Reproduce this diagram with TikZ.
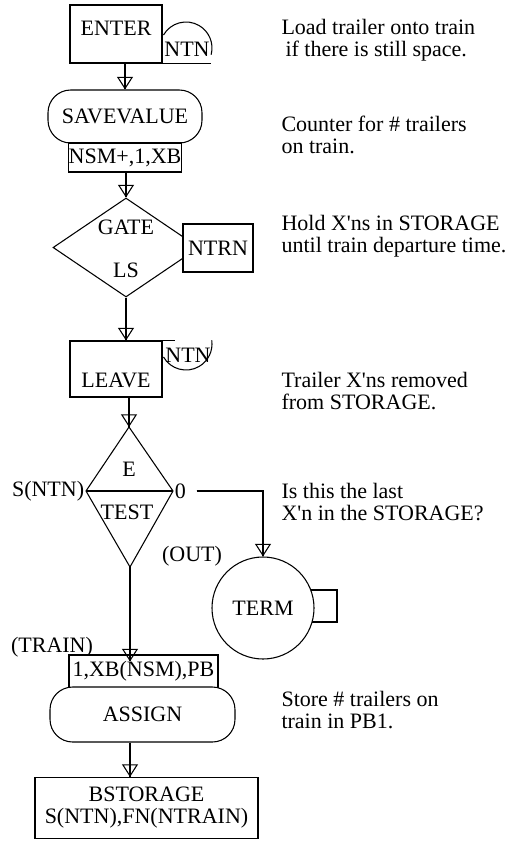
\documentclass[tikz,border=0pt]{standalone}
\usepackage{fontspec}
\setmainfont{Liberation Serif}
\usetikzlibrary{arrows.meta,positioning,calc,shapes.geometric}
\tikzset{gpss edge/.style={-{Triangle[open,length=9.5pt,width=12pt]}, line width=0.8pt, postaction={draw,-}}}
\tikzset{gpss box/.style={draw=black, line width=0.8pt, inner sep=0pt, fill=white}}
\tikzset{gpss round/.style={gpss box, rounded corners=17pt}}
\tikzset{gpss label/.style={inner sep=1pt}}
\tikzset{gpss note/.style={anchor=west, align=left, inner sep=0pt}}

\begin{document}
\begin{tikzpicture}[x=0.75pt,y=-0.75pt,line width=0.8pt,font=\fontsize{16.5}{16.5}\selectfont]
		\useasboundingbox (0,0) rectangle (507,842);

		% ENTER with storage NTN
		\node[gpss box, minimum width=69pt, minimum height=43.5pt, label={[gpss label, yshift=4.5pt]center:ENTER}] (enter) at (116,34) {};
		\node[gpss label] (ntn1) at (187,49) {NTN};
		\coordinate (enter ntn) at (186,48);
		\draw ($(enter ntn)+(150:19.5pt)$) arc[start angle=150, end angle=-15, radius=19.5pt];
		\draw (enter.south east) -- ++(48,0);

		% SAVEVALUE
		\node[gpss round, minimum width=115.5pt, minimum height=39.75pt] (sav) at (125,116.5) {SAVEVALUE};
		\node[gpss box, minimum width=84pt, minimum height=21.75pt] (nsm) at (125,157.5) {NSM+,1,XB};

		% GATE LS
		\node[diamond, draw, minimum width=109.5pt, minimum height=74.25pt, inner sep=0pt] (gate) at (126,247.5) {};
		\node[gpss label] (gate top) at (126,227) {GATE};
		\node[gpss label] (gate bot) at (126,270) {LS};
		\node[gpss box, minimum width=52.5pt, minimum height=36pt] (ntrn) at (218,248) {NTRN};

		% LEAVE with storage NTN
		\node[gpss box, minimum width=69pt, minimum height=42pt, label={[gpss label, yshift=-8.25pt]center:LEAVE}] (leave) at (116,369) {};
		\node[gpss label] (ntn2) at (188,355) {NTN};
		\coordinate (leave ntn) at (186,344);
		\draw ($(leave ntn)+(210:19.5pt)$) arc[start angle=210, end angle=368, radius=19.5pt];
		\draw (leave.north east) -- ++(12,0);

		% TEST E
		\coordinate (test n) at (129,427);
		\coordinate (test e) at (173,491);
		\coordinate (test s) at (130,567);
		\coordinate (test w) at (86,491);
		\draw (test n) -- (test e) -- (test s) -- (test w) -- cycle;
		\draw (test w) -- (test e);
		\node[gpss label] (test top) at (129,469) {E};
		\node[gpss label] (test bot) at (127,512) {TEST};
		\node[gpss label, anchor=east] (snt) at (test w) {S(NTN)};
		\node[gpss label, anchor=west] (zero) at (test e) {0};

		% TERMINATE
		\node[gpss box, minimum width=27.75pt, minimum height=24pt] (termbox) at (318.5,606) {};
		\node[circle, draw, fill=white, minimum size=76.5pt, inner sep=0pt] (term) at (263,608) {TERM};
		\node[gpss label] (out) at (192,556) {(OUT)};

		% ASSIGN
		\node[gpss label] (train) at (52,647) {(TRAIN)};
		\node[gpss box, minimum width=111.75pt, minimum height=24.75pt] (pb) at (143.5,671.5) {1,XB(NSM),PB};
		\node[gpss round, minimum width=138.75pt, minimum height=41.25pt] (assign) at (142.5,714.5) {ASSIGN};

		% BSTORAGE
		\node[gpss box, align=center, minimum width=167.25pt, minimum height=45.75pt] (bst) at (146.5,808) {BSTORAGE\\S(NTN),FN(NTRAIN)};

		% flow
		\draw[gpss edge] (enter.south -| sav.north) -- (sav.north);
		\draw[gpss edge] (nsm.south -| gate.north) -- (gate.north);
		\draw[gpss edge] (gate.south) -- (leave.north -| gate.south);
		\draw[gpss edge] (leave.south -| test n) -- (test n);
		\draw[gpss edge] (test s) -- ($(pb.north -| test s)+(0,7)$);
		\draw[gpss edge] (assign.south -| test s) -- (bst.north -| test s);
		\draw[gpss edge] ($(zero.east)+(9,0)$) -| (term.north);

		% comments
		\node[gpss note] (note1) at (281,40) {Load trailer onto train\\\hspace*{3pt}if there is still space.};
		\node[gpss note] (note2) at (281,135) {Counter for \# trailers\\on train.};
		\node[gpss note] (note3) at (281,236) {Hold X\textquotesingle ns in STORAGE\\until train departure time.};
		\node[gpss note] (note4) at (281,391) {Trailer X\textquotesingle ns removed\\from STORAGE.};
		\node[gpss note] (note5) at (281,502) {Is this the last\\X\textquotesingle n in the STORAGE?};
		\node[gpss note] (note6) at (281,710) {Store \# trailers on\\train in PB1.};
	\end{tikzpicture}
\end{document}
